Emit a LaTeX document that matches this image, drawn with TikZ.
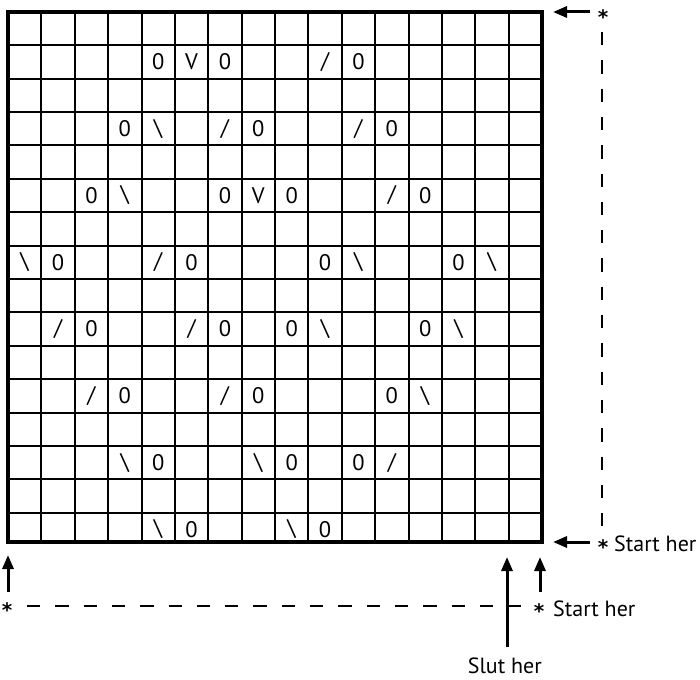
\documentclass[tikz,border=0pt]{standalone}
\usepackage{fontspec}
\setmainfont{PT Sans}
\newfontfamily\starfont{DejaVu Sans}
\usetikzlibrary{arrows.meta}
\newcommand{\bsl}{\textbackslash}
\newcommand{\fsl}{/}
\begin{document}
\begin{tikzpicture}[x=1pt,y=-1pt,
  sym/.style={font=\fontsize{22.5}{22.5}\selectfont, inner sep=0pt},
  lbl/.style={font=\fontsize{22}{22}\selectfont, inner sep=0pt},
  starnode/.style={font=\starfont\bfseries\fontsize{20}{20}\selectfont, inner sep=0pt},
  arr/.style={line width=3pt, -{Triangle[length=14pt,width=11pt]}},
  dsh/.style={line width=2.5pt, dash pattern=on 13.3pt off 15pt},
  gridline/.style={line width=2pt},
  frame/.style={line width=3.5pt},
]
\useasboundingbox (0,0) rectangle (700,679);
\def\cs{33.375}
% grid
\foreach \i in {1,...,15} {
  \draw[gridline] ({8+\i*\cs},12) -- ({8+\i*\cs},542);
  \draw[gridline] (8,{12+\i*\cs}) -- (542,{12+\i*\cs});
}
\draw[frame] (8,12) rectangle (542,542);
% symbols
\foreach \c/\r/\s in {
  5/2/0, 6/2/V, 7/2/0, 10/2/\fsl, 11/2/0,
  4/4/0, 5/4/\bsl, 7/4/\fsl, 8/4/0, 11/4/\fsl, 12/4/0,
  3/6/0, 4/6/\bsl, 7/6/0, 8/6/V, 9/6/0, 12/6/\fsl, 13/6/0,
  1/8/\bsl, 2/8/0, 5/8/\fsl, 6/8/0, 10/8/0, 11/8/\bsl, 14/8/0, 15/8/\bsl,
  2/10/\fsl, 3/10/0, 6/10/\fsl, 7/10/0, 9/10/0, 10/10/\bsl, 13/10/0, 14/10/\bsl,
  3/12/\fsl, 4/12/0, 7/12/\fsl, 8/12/0, 12/12/0, 13/12/\bsl,
  4/14/\bsl, 5/14/0, 8/14/\bsl, 9/14/0, 11/14/0, 12/14/\fsl,
  5/16/\bsl, 6/16/0, 9/16/\bsl, 10/16/0} {
  \node[sym] (s-\c-\r) at ({8+(\c-0.5)*\cs},{12+(\r-0.5)*\cs}) {\s};
}
% stars and labels
\node[starnode] (st1) at (603,17) {*};
\node[starnode] (st2) at (603,547.5) {*};
\node[starnode] (st3) at (7,610.5) {*};
\node[starnode] (st4) at (539,611.5) {*};
\node[lbl, anchor=base west] (lab1) at (614,551) {Start her};
\node[lbl, anchor=base west] (lab2) at (553,616) {Start her};
\node[lbl, anchor=base east] (lab3) at (542,673) {Slut her};
% arrows
\coordinate (a1s) at (590,12);  \coordinate (a1e) at (553,12);
\coordinate (a2s) at (590,542); \coordinate (a2e) at (553,542);
\coordinate (a3s) at (8,592);   \coordinate (a3e) at (8,555);
\coordinate (a4s) at (540,592); \coordinate (a4e) at (540,557);
\coordinate (a5s) at (507,647); \coordinate (a5e) at (507,557);
\draw[arr] (a1s) -- (a1e);
\draw[arr] (a2s) -- (a2e);
\draw[arr] (a3s) -- (a3e);
\draw[arr] (a4s) -- (a4e);
\draw[arr] (a5s) -- (a5e);
% dashed guides
\coordinate (d1s) at (602,32);  \coordinate (d1e) at (602,527);
\coordinate (d2s) at (27,606);  \coordinate (d2e) at (522,606);
\draw[dsh] (d1s) -- (d1e);
\draw[dsh] (d2s) -- (d2e);
\end{tikzpicture}
\end{document}
